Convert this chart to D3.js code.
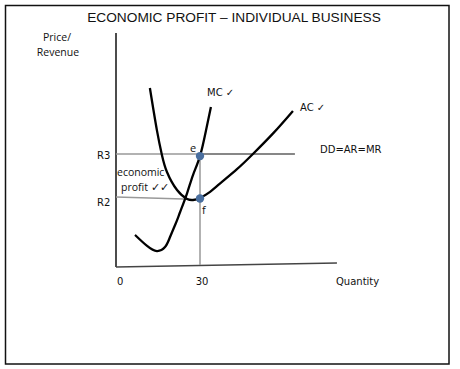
<!DOCTYPE html>
<html><head><meta charset="utf-8">
<script src="https://cdn.jsdelivr.net/npm/d3@7"></script>
<style>html,body{margin:0;padding:0;background:#fff;}svg{display:block;}</style>
</head><body>
<script>
// ---- data (quantity, price) ----
const mcQ = [6.8, 11.1, 14.6, 17.5, 19.3, 21.4, 22.9, 25.4, 27.5, 30, 32.1, 33.9];
const mcP = [13.7, 9.0, 6.8, 8.5, 12.8, 18.8, 23.5, 31.6, 39.3, 47.4, 58.1, 68.4];
const acQ = [12.1, 14.6, 16.4, 18.2, 21.8, 25.4, 27.5, 30, 33.6, 37.1, 43.2, 48.9, 56.1, 63.2];
const acP = [76.5, 58.5, 47.9, 40.6, 32.9, 29.1, 28.6, 29.5, 32.1, 35.6, 41.8, 48.3, 57.1, 66.7];
const R3 = 48.3, R2left = 29.9, R2right = 28.8;
const Qstar = 30, Qmax = 63.9;
const xAxisEnd = [78.9, 1.7];
const xTicks = [0, 30];
const pointNames = ["e", "f"];
const pointP = [47.4, 29.3];

const W = 460, H = 369;
const x = d3.scaleLinear().domain([0, 30]).range([116, 200]);
const y = d3.scaleLinear().domain([0, 100]).range([267, 33]);

const svg = d3.select("body").append("svg").attr("width", W).attr("height", H);
svg.append("rect").attr("x", 5.5).attr("y", 5.5).attr("width", 443.5).attr("height", 358.5)
  .attr("fill", "none").attr("stroke", "#111").attr("stroke-width", 1.5);

const font = "'Liberation Sans', Arial, sans-serif";
const tfont = "'DejaVu Sans', Tahoma, sans-serif";

svg.append("text").attr("x", 234).attr("y", 21.5).attr("text-anchor", "middle")
  .attr("font-family", font).attr("font-size", 13.7).attr("fill", "#111")
  .text("ECONOMIC PROFIT – INDIVIDUAL BUSINESS");

svg.append("text").attr("x", 57).attr("y", 41).attr("text-anchor", "middle")
  .attr("font-family", "'Open Sans', sans-serif").attr("font-size", 10.5).attr("fill", "#111").text("Price/");
svg.append("text").attr("x", 58).attr("y", 56).attr("text-anchor", "middle")
  .attr("font-family", "'Open Sans', sans-serif").attr("font-size", 10.5).attr("fill", "#111").text("Revenue");

const line = d3.line().x(d => x(d[0])).y(d => y(d[1]));

// y axis
svg.append("path").attr("d", line([[0, 0], [0, 100]])).attr("stroke", "#111").attr("stroke-width", 1.5).attr("fill", "none");
// x axis
svg.append("path").attr("d", line([[0, 0], xAxisEnd])).attr("stroke", "#444").attr("stroke-width", 1.3).attr("fill", "none");

// grey guides
svg.append("path").attr("d", line([[0, R3], [Qstar, R3]])).attr("stroke", "#999").attr("stroke-width", 1.5).attr("fill", "none");
svg.append("path").attr("d", line([[0, R2left], [Qstar, R2right]])).attr("stroke", "#999").attr("stroke-width", 1.5).attr("fill", "none");
svg.append("path").attr("d", line([[Qstar, R3], [Qstar, 0.9]])).attr("stroke", "#999").attr("stroke-width", 1.5).attr("fill", "none");
// demand line
svg.append("path").attr("d", line([[Qstar, R3], [Qmax, R3]])).attr("stroke", "#111").attr("stroke-width", 1.2).attr("fill", "none");

const curve = d3.line().x(d => x(d[0])).y(d => y(d[1])).curve(d3.curveNatural);
svg.append("path").attr("d", curve(mcQ.map((q, i) => [q, mcP[i]]))).attr("stroke", "#000").attr("stroke-width", 2.3).attr("fill", "none");
svg.append("path").attr("d", curve(acQ.map((q, i) => [q, acP[i]]))).attr("stroke", "#000").attr("stroke-width", 2.3).attr("fill", "none");

// points
svg.selectAll("circle.pt").data(pointP).enter().append("circle")
  .attr("cx", x(Qstar)).attr("cy", d => y(d)).attr("r", 4.2).attr("fill", "#4a6f9f");

// labels
const lab = (t, px, py, f, s, anchor) => svg.append("text").attr("x", px).attr("y", py)
  .attr("font-family", f).attr("font-size", s).attr("fill", "#111").attr("text-anchor", anchor || "start").text(t);

lab("MC ✓", 207, 96, tfont, 10);
lab("AC ✓", 300, 111, tfont, 10);
lab("DD=AR=MR", 320, 153, tfont, 10);
lab("R3", 97, y(R3) + 5, tfont, 10);
lab("R2", 97, y(R2left) + 9, tfont, 10);
lab(pointNames[0], 190, 152, "'Open Sans', sans-serif", 11);
lab(pointNames[1], 202, 214, "'Open Sans', sans-serif", 11);
lab("economic", 117, 176, "'Open Sans', sans-serif", 10.5);
lab("profit ✓✓", 121, 191, "'Open Sans', sans-serif", 10.5);
xTicks.forEach(t => lab(String(t), x(t) + (t === 0 ? 1 : 2), 285, tfont, 10, t === 0 ? "start" : "middle"));
lab("Quantity", 336, 285, tfont, 10);
</script>
</body></html>
